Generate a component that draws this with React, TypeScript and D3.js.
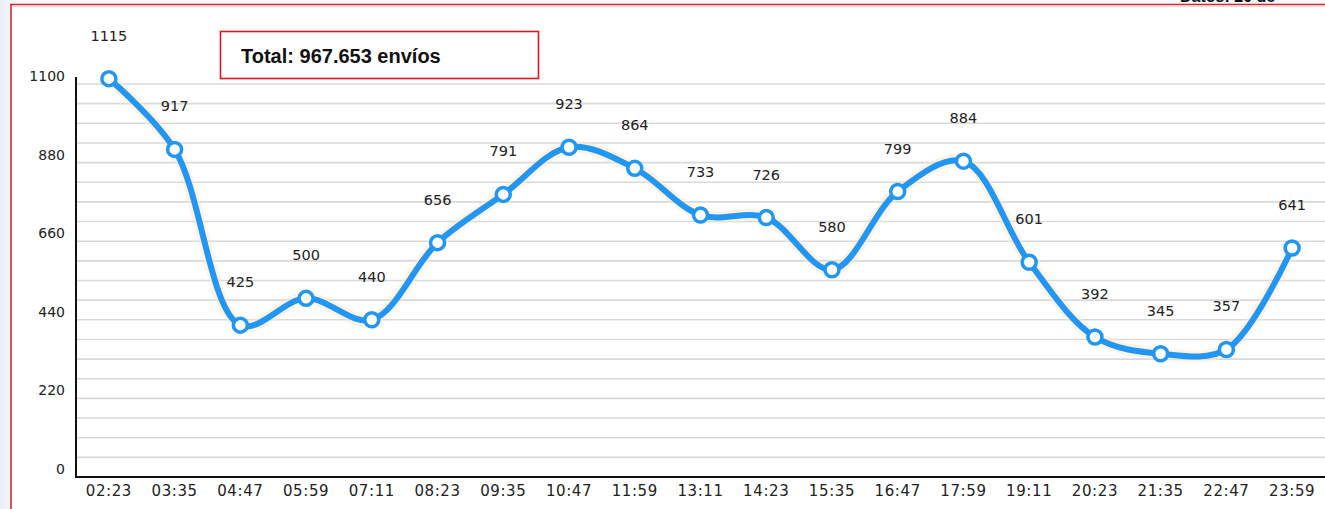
import * as d3 from "d3";

// Shipments per interval
const times = ["02:23", "03:35", "04:47", "05:59", "07:11", "08:23", "09:35", "10:47", "11:59", "13:11", "14:23", "15:35", "16:47", "17:59", "19:11", "20:23", "21:35", "22:47", "23:59"];
const envios = [1115, 917, 425, 500, 440, 656, 791, 923, 864, 733, 726, 580, 799, 884, 601, 392, 345, 357, 641];
const yTicks = [0, 220, 440, 660, 880, 1100];
const gridValues = d3.range(55, 1101, 55);

const W = 1325;
const H = 509;
const LEFT = 76;
const BOTTOM = 477;
const TOP = 84;
const LINE = "#2196F3";
const FONT = "'DejaVu Sans', Verdana, sans-serif";

export default function App() {
  const x = d3.scalePoint<string>().domain(times).range([LEFT, W]).padding(0.5);
  const y = d3.scaleLinear().domain([0, 1100]).range([BOTTOM, TOP]);

  const pts = envios.map((v, i) => [x(times[i]) ?? 0, y(v)] as [number, number]);
  const path = d3.line().curve(d3.curveCatmullRom.alpha(0.5))(pts) ?? "";

  return (
    <div style={{ position: "absolute", left: 0, top: 0 }}>
      <svg width={W} height={H} style={{ display: "block", background: "#fff" }}>
        <defs>
          <linearGradient id="side" x1="0" x2="1" y1="0" y2="0">
            <stop offset="0%" stopColor="#e9edf6" />
            <stop offset="100%" stopColor="#f4f6fb" />
          </linearGradient>
        </defs>
        {/* page background outside the frame */}
        <rect x={0} y={0} width={11} height={H} fill="url(#side)" />
        <rect x={11} y={0} width={W - 11} height={4} fill="#f7f8fc" />
        {/* clipped header texts */}
        <text x={1180} y={2} fontFamily="'Liberation Sans', Arial, sans-serif" fontWeight="bold" fontSize={16} fill="#111">
          Datos: 20 de
        </text>
        <line x1={10} x2={W} y1={4.5} y2={4.5} stroke="#d7262f" strokeWidth={1.6} />
        <line x1={12} x2={W} y1={6.5} y2={6.5} stroke="#f6d4d8" strokeWidth={1} />
        <line x1={11} x2={11} y1={4} y2={H} stroke="#d7262f" strokeWidth={1.6} />

        {/* grid */}
        {gridValues.map((v) => (
          <line key={v} x1={LEFT} x2={W} y1={y(v)} y2={y(v)} stroke="#d9d9d9" strokeWidth={1.6} />
        ))}

        {/* axes */}
        <line x1={LEFT} x2={LEFT} y1={77} y2={BOTTOM + 1} stroke="#111" strokeWidth={2} />
        <line x1={LEFT - 1} x2={W} y1={BOTTOM} y2={BOTTOM} stroke="#111" strokeWidth={2} />

        {yTicks.map((v) => (
          <text key={v} x={65} y={y(v) - 3} textAnchor="end" fontFamily={FONT} fontSize={14} fill="#222">
            {v}
          </text>
        ))}
        {times.map((t) => (
          <text key={t} x={x(t)} y={496} textAnchor="middle" fontFamily={FONT} fontSize={15} letterSpacing={0.6} fill="#222">
            {t}
          </text>
        ))}

        {/* series */}
        <path d={path} fill="none" stroke="#ffe8cc" strokeOpacity={0.5} strokeWidth={12} strokeLinecap="round" />
        <path d={path} fill="none" stroke={LINE} strokeWidth={6} strokeLinecap="round" />
        {pts.map(([px, py], i) => (
          <circle key={i} cx={px} cy={py} r={7} fill="#fff" stroke={LINE} strokeWidth={3.5} />
        ))}
        {pts.map(([px, py], i) => (
          <text key={i} x={px} y={py - 38} textAnchor="middle" fontFamily={FONT} fontSize={14.5} fill="#222">
            {envios[i]}
          </text>
        ))}

        {/* total box */}
        <rect x={220.5} y={31.5} width={318} height={47} fill="#fff" stroke="#e0141e" strokeWidth={1.6} />
        <text x={241} y={63} fontFamily="'Liberation Sans', Arial, sans-serif" fontWeight="bold" fontSize={20} fill="#111">
          Total: 967.653 envíos
        </text>
      </svg>
    </div>
  );
}
